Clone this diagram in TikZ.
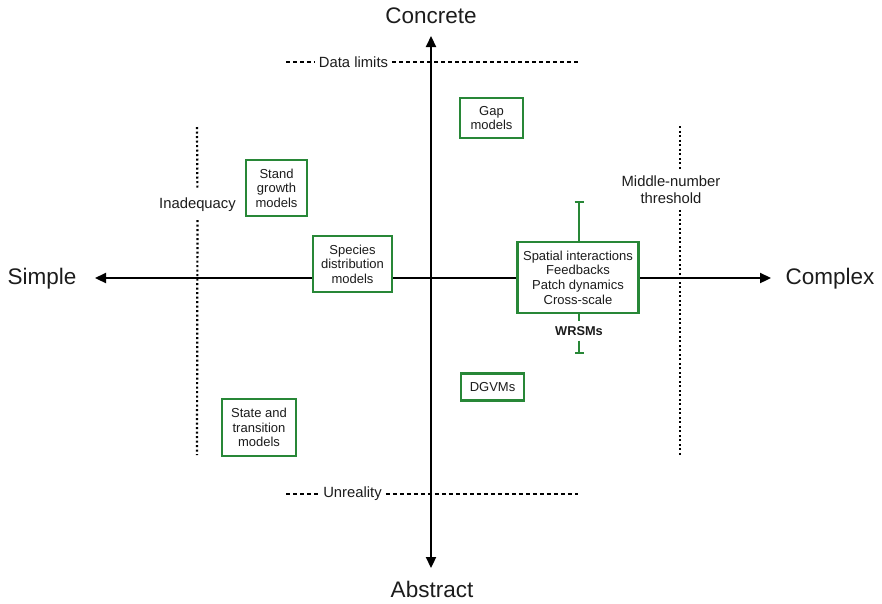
\documentclass[tikz,border=0pt]{standalone}
\usepackage{fontspec}
\setmainfont{Liberation Sans}
\usetikzlibrary{arrows.meta}
\definecolor{modelgreen}{RGB}{40,135,55}
\definecolor{inkgrey}{RGB}{28,28,28}
\begin{document}
\begin{tikzpicture}[x=1pt,y=-1pt,text=inkgrey,
  axisline/.style={line width=2.2pt,-{Triangle[length=11pt,width=10pt]}},
  axislabel/.style={font=\fontsize{22.5}{26}\selectfont,inner sep=0pt},
  model/.style={draw=modelgreen,line width=2.4pt,fill=white,align=center,
    font=\fontsize{13}{14.6}\selectfont,inner sep=0pt},
  limitlabel/.style={font=\fontsize{14.8}{17}\selectfont,align=center,inner xsep=4pt},
  hlimit/.style={line width=1.6pt,dash pattern=on 4pt off 3pt},
  vlimit/.style={line width=2.2pt,dash pattern=on 2pt off 2.5pt},
  errbar/.style={draw=modelgreen,line width=1.8pt},
]
\useasboundingbox (0,0) rectangle (882,603);

% axes
\coordinate (origin) at (431,278);
\node[axislabel] (simple)   at (42,279)  {Simple};
\node[axislabel] (complex)  at (830,279) {Complex};
\node[axislabel] (concrete) at (431,16)  {Concrete};
\node[axislabel] (abstract) at (432,589) {Abstract};
\coordinate (xneg) at (95,278);
\coordinate (xpos) at (771,278);
\coordinate (ypos) at (431,36);
\coordinate (yneg) at (431,568);
\draw[axisline] (origin) -- (xneg);
\draw[axisline] (origin) -- (xpos);
\draw[axisline] (origin) -- (ypos);
\draw[axisline] (origin) -- (yneg);

% horizontal limits
\coordinate (dl-l) at (286,62);
\coordinate (dl-r) at (578,62);
\node[limitlabel] (datalimits) at (353.5,62) {Data limits};
\draw[hlimit] (dl-l) -- (datalimits) -- (dl-r);

\coordinate (ur-l) at (286,494);
\coordinate (ur-r) at (578,494);
\node[limitlabel] (unreality) at (352.5,494) {Unreality};
\draw[hlimit] (ur-l) -- (unreality) -- (ur-r);

% vertical limits
\coordinate (in-t) at (197,127);
\coordinate (in-b) at (197,455);
\node[limitlabel,inner ysep=8pt] (inadequacy) at (197.5,205) {Inadequacy};
\draw[vlimit] (in-t) -- (inadequacy) -- (in-b);

\coordinate (mn-t) at (680,126);
\coordinate (mn-b) at (680,455);
\node[limitlabel,inner ysep=6pt,font=\fontsize{14.8}{17.5}\selectfont] (middlenumber) at (671,189.5) {Middle-number\\threshold};
\draw[vlimit] (mn-t) -- (mn-t |- middlenumber.north);
\draw[vlimit] (mn-b |- middlenumber.south) -- (mn-b);

% model classes
\node[model,minimum width=63pt,minimum height=40pt] (gap) at (491.5,118) {Gap\\models};
\node[model,minimum width=61pt,minimum height=56pt] (stand) at (276.5,188) {Stand\\growth\\models};
\node[model,minimum width=79pt,minimum height=56pt] (species) at (352.5,264) {Species\\distribution\\models};
\node[model,minimum width=63pt,minimum height=27pt] (dgvm) at (492.5,387) {DGVMs};
\node[model,minimum width=74pt,minimum height=57pt] (state) at (259,427.5) {State and\\transition\\models};

% WRSMs with range bar
\coordinate (wr-t) at (579,201);
\coordinate (wr-b) at (579,354);
\node[model,minimum width=121pt,minimum height=71pt] (wrsm) at (578,277.5)
  {Spatial interactions\\Feedbacks\\Patch dynamics\\Cross-scale};
\node[font=\bfseries\fontsize{12.8}{14.5}\selectfont,fill=white,inner xsep=2pt,inner ysep=5pt] (wrsmlabel) at (579,331) {WRSMs};
\draw[errbar,-{Bar[width=9pt,line width=1.8pt]}] (wrsm.north -| wr-t) -- (wr-t);
\draw[errbar] (wrsm.south -| wr-t) -- (wrsmlabel.north);
\draw[errbar,-{Bar[width=9pt,line width=1.8pt]}] (wrsmlabel.south) -- (wr-b);
\end{tikzpicture}
\end{document}
